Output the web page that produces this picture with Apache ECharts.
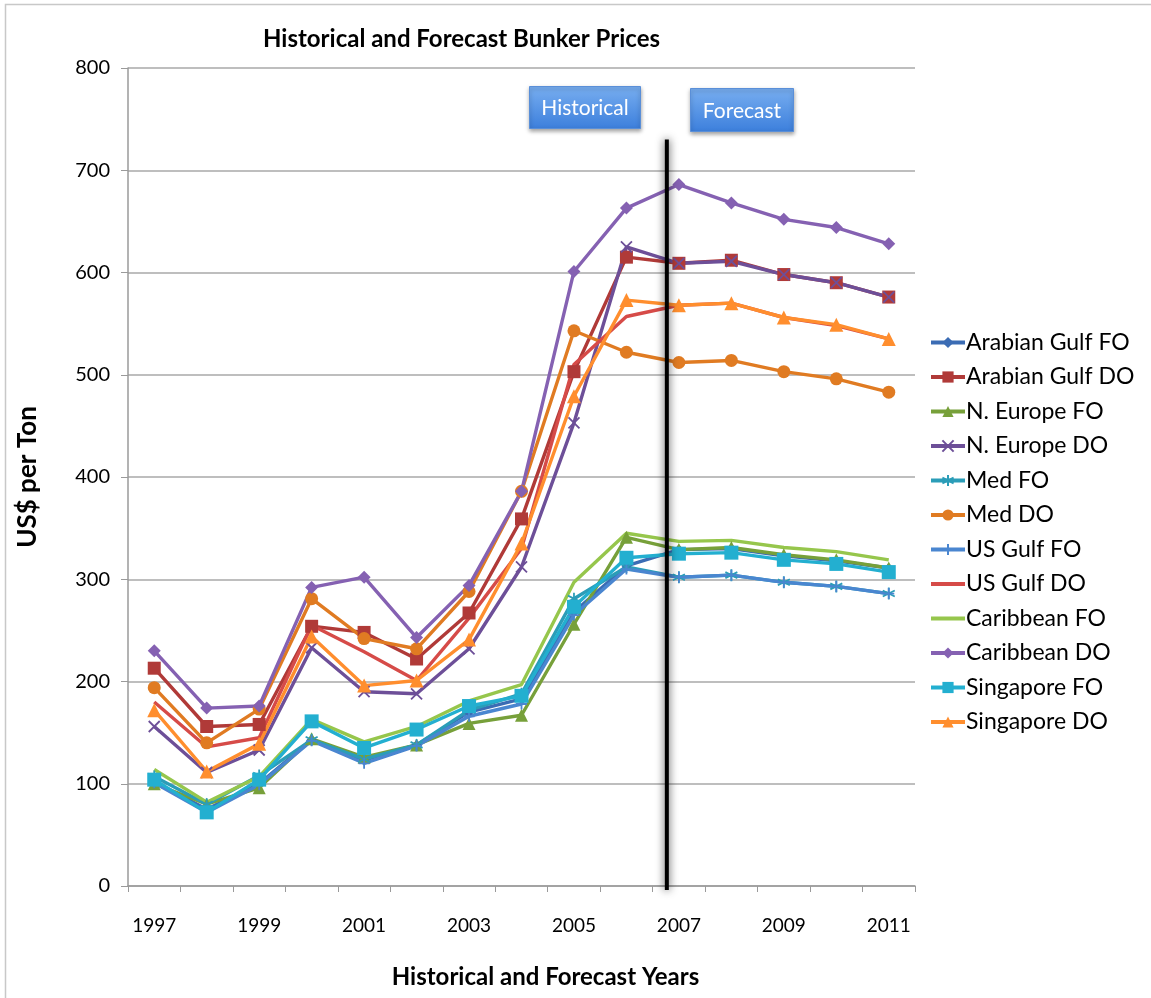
<!DOCTYPE html>
<html>
<head>
<meta charset="utf-8">
<title>Historical and Forecast Bunker Prices</title>
<script src="https://cdn.jsdelivr.net/npm/echarts@6/dist/echarts.min.js"></script>
<style>
  html, body { margin: 0; padding: 0; background: #ffffff; }
  #chart { width: 1151px; height: 998px; }
</style>
</head>
<body>
<div id="chart"></div>
<script>
// Bunker prices, US$ per ton, by year (historical through 2006, forecast after)
const years = ['1997', '1998', '1999', '2000', '2001', '2002', '2003', '2004',
               '2005', '2006', '2007', '2008', '2009', '2010', '2011'];

const arabianGulfFO = [102, 75, 100, 143, 123, 138, 170, 183, 268, 313, 329, 330, 323, 318, 311];
const arabianGulfDO = [213, 156, 158, 254, 248, 222, 267, 359, 503, 615, 609, 612, 598, 590, 576];
const nEuropeFO     = [100, 80, 96, 144, 126, 138, 159, 167, 256, 341, 329, 331, 324, 319, 311];
const nEuropeDO     = [156, 111, 133, 233, 190, 188, 232, 312, 453, 625, 609, 611, 598, 590, 576];
const medFO         = [107, 80, 108, 143, 124, 138, 172, 188, 281, 312, 302, 304, 297, 293, 286];
const medDO         = [194, 140, 173, 281, 242, 232, 288, 386, 543, 522, 512, 514, 503, 496, 483];
const usGulfFO      = [101, 72, 99, 142, 120, 137, 166, 178, 265, 310, 302, 304, 297, 293, 286];
const usGulfDO      = [180, 136, 145, 255, 229, 201, 262, 330, 510, 557, 568, 570, 556, 548, 535];
const caribbeanFO   = [114, 82, 107, 163, 141, 156, 181, 197, 297, 345, 337, 338, 331, 327, 319];
const caribbeanDO   = [230, 174, 176, 292, 302, 243, 294, 386, 601, 663, 686, 668, 652, 644, 628];
const singaporeFO   = [104, 72, 104, 161, 135, 153, 176, 186, 273, 321, 325, 326, 319, 315, 307];
const singaporeDO   = [172, 112, 139, 244, 196, 201, 241, 335, 479, 573, 568, 570, 556, 549, 535];

// Y axis ticks
const yTicks = { min: 0, max: 800, interval: 100 };

// Position of the historical / forecast divider on a continuous year scale
const dividerYear = 2006.77;
const dividerTop = 730;

const FONT = 'Lato, "Open Sans", "Liberation Sans", sans-serif';

const SYM_X = 'path://M0,0L10,10M10,0L0,10';
const SYM_STAR = 'path://M5,0L5,10M0.7,2.5L9.3,7.5M0.7,7.5L9.3,2.5';
const SYM_PLUS = 'path://M5,0L5,10M0,5L10,5';

function seriesDef(name, data, color, symbol, size, stroked) {
  const s = {
    name: name,
    type: 'line',
    data: data,
    symbol: symbol,
    symbolSize: size,
    showSymbol: symbol !== 'none',
    lineStyle: { color: color, width: 3.4 },
    itemStyle: { color: color },
    emphasis: { disabled: true },
    animation: false
  };
  if (stroked) {
    s.itemStyle = { color: color, borderColor: color, borderWidth: 1.8 };
  }
  return s;
}

const series = [
  seriesDef('Arabian Gulf FO', arabianGulfFO, '#3b6cb4', 'diamond', 10),
  seriesDef('Arabian Gulf DO', arabianGulfDO, '#b03a38', 'rect', 13),
  seriesDef('N. Europe FO', nEuropeFO, '#77a03a', 'triangle', 13),
  seriesDef('N. Europe DO', nEuropeDO, '#6d4f98', SYM_X, 11, true),
  seriesDef('Med FO', medFO, '#2b9db8', SYM_STAR, 12, true),
  seriesDef('Med DO', medDO, '#e07b22', 'circle', 13),
  seriesDef('US Gulf FO', usGulfFO, '#4a86d0', SYM_PLUS, 11, true),
  seriesDef('US Gulf DO', usGulfDO, '#d64b48', 'none', 0),
  seriesDef('Caribbean FO', caribbeanFO, '#96c64c', 'none', 0),
  seriesDef('Caribbean DO', caribbeanDO, '#8561b2', 'diamond', 13),
  seriesDef('Singapore FO', singaporeFO, '#23afd0', 'rect', 14),
  seriesDef('Singapore DO', singaporeDO, '#ff8e2e', 'triangle', 14)
];

// Series without markers show only the line segment in the legend
const legendData = series.map(s =>
  s.symbol === 'none'
    ? { name: s.name, itemStyle: { opacity: 0 } }
    : { name: s.name });

// Divider between historical and forecast periods
series.push({
  name: 'divider',
  type: 'line',
  xAxisIndex: 1,
  data: [[dividerYear, dividerTop], [dividerYear, -4]],
  symbol: 'none',
  clip: false,
  lineStyle: {
    color: '#000000', width: 4,
    shadowColor: 'rgba(0,0,0,0.8)', shadowBlur: 9
  },
  z: 5,
  silent: true,
  animation: false
});

function labelBox(text, left, top, width, height) {
  return {
    type: 'group',
    left: left,
    top: top,
    children: [
      {
        type: 'rect',
        shape: { x: 0, y: 0, width: width, height: height },
        style: {
          fill: new echarts.graphic.LinearGradient(0, 0, 0, 1, [
            { offset: 0, color: '#78aef0' },
            { offset: 1, color: '#3c7fdc' }
          ]),
          stroke: '#5a8fd8',
          lineWidth: 1,
          shadowColor: 'rgba(0,0,0,0.35)',
          shadowBlur: 4,
          shadowOffsetY: 2
        }
      },
      {
        type: 'text',
        x: width / 2,
        y: height / 2 + 1,
        style: {
          text: text,
          fill: '#ffffff',
          font: '21px ' + FONT,
          align: 'center',
          verticalAlign: 'middle'
        }
      }
    ]
  };
}

const chart = echarts.init(document.getElementById('chart'), null, { renderer: 'canvas' });

chart.setOption({
  backgroundColor: '#ffffff',
  animation: false,
  textStyle: { fontFamily: FONT },
  title: {
    text: 'Historical and Forecast Bunker Prices',
    left: 258,
    top: 22,
    textStyle: { fontFamily: FONT, fontSize: 24, fontWeight: 'bold', color: '#000000' }
  },
  legend: {
    orient: 'vertical',
    left: 924,
    top: 326,
    itemWidth: 34,
    itemHeight: 14,
    itemGap: 11.5,
    data: legendData,
    lineStyle: { width: 4 },
    textStyle: { fontFamily: FONT, fontSize: 23, color: '#000000', padding: [0, 0, 0, -4] }
  },
  grid: { left: 128, right: 236, top: 68, bottom: 112, containLabel: false },
  xAxis: [
    {
      type: 'category',
      data: years,
      boundaryGap: true,
      name: 'Historical and Forecast Years',
      nameLocation: 'middle',
      nameGap: 79,
      nameTextStyle: {
        fontFamily: FONT, fontSize: 24, fontWeight: 'bold', color: '#000000',
        padding: [0, 0, 0, 48]
      },
      axisLine: { lineStyle: { color: '#9a9a9a', width: 1.5 } },
      axisTick: { show: true, alignWithLabel: false, length: 6, interval: 0, lineStyle: { color: '#9a9a9a' } },
      axisLabel: { interval: 1, margin: 30, fontSize: 19, color: '#000000', fontFamily: FONT },
      splitLine: { show: false }
    },
    {
      type: 'value',
      min: 1996.5,
      max: 2011.5,
      show: false
    }
  ],
  yAxis: {
    type: 'value',
    min: yTicks.min,
    max: yTicks.max,
    interval: yTicks.interval,
    name: 'US$ per Ton',
    nameLocation: 'middle',
    nameGap: 87,
    nameRotate: 90,
    nameTextStyle: { fontFamily: FONT, fontSize: 26, fontWeight: 'bold', color: '#000000' },
    axisLine: { show: true, lineStyle: { color: '#9a9a9a', width: 1.5 } },
    axisTick: { show: true, length: 7, lineStyle: { color: '#9a9a9a' } },
    axisLabel: { margin: 18, fontSize: 20, color: '#000000', fontFamily: FONT },
    splitLine: { show: true, lineStyle: { color: '#a8a8a8', width: 1.5 } }
  },
  graphic: [
    {
      type: 'rect',
      left: 3,
      top: 2,
      shape: { x: 0, y: 0, width: 1150, height: 996 },
      style: { fill: 'none', stroke: '#c8c8c8', lineWidth: 1.5 },
      silent: true,
      z: -1
    },
    labelBox('Historical', 529, 86, 111, 42),
    labelBox('Forecast', 690, 88, 103, 43)
  ],
  series: series
});
</script>
</body>
</html>
